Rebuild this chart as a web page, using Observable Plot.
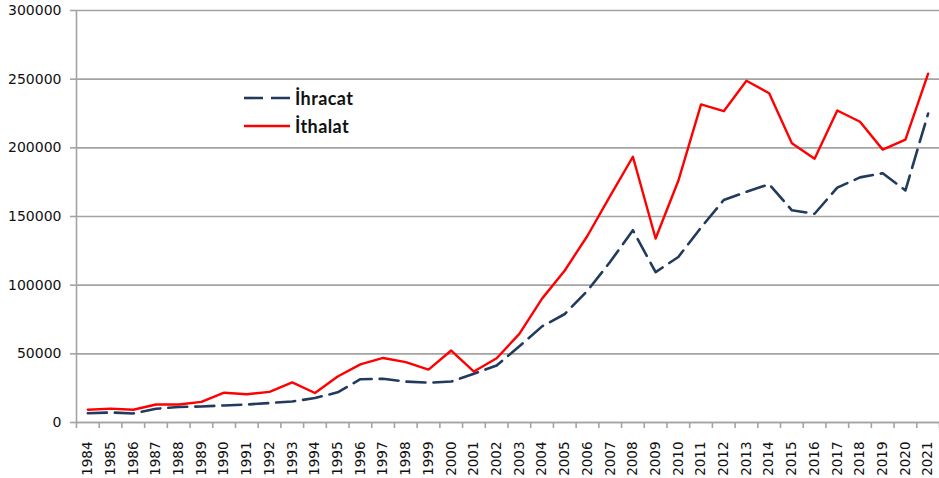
<!DOCTYPE html>
<html>
<head>
<meta charset="utf-8">
<script src="https://cdn.jsdelivr.net/npm/d3@7"></script>
<script src="https://cdn.jsdelivr.net/npm/@observablehq/plot@0.6"></script>
<style>
  html, body { margin: 0; padding: 0; background: #fff; }
  #wrap { position: relative; width: 939px; height: 478px; }
  #legend { position: absolute; left: 244px; top: 84px; font-family: Lato, "Open Sans", sans-serif; font-weight: 700; font-size: 18px; letter-spacing: 0.4px; color: #111; }
  #legend .row { display: flex; align-items: center; height: 28px; }
  #legend svg { margin-right: 5px; }
</style>
</head>
<body>
<div id="wrap"></div>
<script>
const years = [1984,1985,1986,1987,1988,1989,1990,1991,1992,1993,1994,1995,1996,1997,1998,1999,2000,2001,2002,2003,2004,2005,2006,2007,2008,2009,2010,2011,2012,2013,2014,2015,2016,2017,2018,2019,2020,2021];
const ihracat = [6700,7300,6600,10000,11300,11700,12400,13100,14200,15300,17800,22000,31500,31800,29800,29000,29800,35500,41500,55500,70000,79000,96000,117000,140000,109500,120500,142000,162000,168000,173500,154500,152000,171000,178500,181500,169000,225000];
const ithalat = [9300,10100,9300,13100,13100,15000,21700,20600,22300,29200,21500,33500,42300,47000,44000,38500,52400,37100,46800,64500,90200,110700,136000,165000,193500,134000,176000,231600,226700,248800,239700,203300,192100,227200,219000,198700,206000,254000];
const yTicks = [0,50000,100000,150000,200000,250000,300000];
const seriesNames = ["İhracat", "İthalat"];

const rows = [];
years.forEach((yr, i) => {
  rows.push({year: yr, value: ihracat[i], series: seriesNames[0]});
  rows.push({year: yr, value: ithalat[i], series: seriesNames[1]});
});
const xDomain = [years[0] - 0.5, years[years.length - 1] + 0.5];
const boundaries = years.map(y => y - 0.5).concat([xDomain[1]]);

const navy = "#223a5c", red = "#ff0000", grid = "#a3a3a3";

const chart = Plot.plot({
  width: 939,
  height: 478,
  marginLeft: 76,
  marginRight: 0,
  marginTop: 10,
  marginBottom: 56,
  style: {fontFamily: "'DejaVu Sans', Verdana, sans-serif", background: "#fff", color: "#111"},
  x: {domain: xDomain},
  y: {domain: [0, 300000]},
  marks: [
    Plot.gridY(yTicks, {stroke: grid, strokeOpacity: 1, strokeWidth: 1.6}),
    Plot.axisY(yTicks, {tickFormat: d => String(d), tickSize: 6, tickPadding: 9, fontSize: 14, stroke: grid, strokeWidth: 1.6, label: null}),
    Plot.axisX(boundaries, {tickFormat: () => "", tickSize: 6, stroke: grid, strokeWidth: 1.6, label: null}),
    Plot.axisX(years, {tickFormat: d => String(d), tickSize: 0, tickPadding: 19, tickRotate: -90, fontSize: 13.5, label: null}),
    Plot.ruleX([xDomain[0]], {stroke: grid, strokeWidth: 1.6}),
    Plot.ruleY([0], {stroke: grid, strokeWidth: 1.6}),
    Plot.line(rows.filter(d => d.series === seriesNames[0]), {x: "year", y: "value", stroke: navy, strokeWidth: 2.6, strokeDasharray: "19,8", strokeLinejoin: "round"}),
    Plot.line(rows.filter(d => d.series === seriesNames[1]), {x: "year", y: "value", stroke: red, strokeWidth: 2.4, strokeLinejoin: "round"})
  ]
});
const wrap = document.getElementById("wrap");
wrap.appendChild(chart);

const legend = document.createElement("div");
legend.id = "legend";
legend.innerHTML =
  `<div class="row"><svg width="46" height="6"><line x1="0" x2="46" y1="3" y2="3" stroke="${navy}" stroke-width="2.6" stroke-dasharray="19,8"/></svg><span>${seriesNames[0]}</span></div>` +
  `<div class="row"><svg width="46" height="6"><line x1="0" x2="46" y1="3" y2="3" stroke="${red}" stroke-width="2.4"/></svg><span>${seriesNames[1]}</span></div>`;
wrap.appendChild(legend);
</script>
</body>
</html>
